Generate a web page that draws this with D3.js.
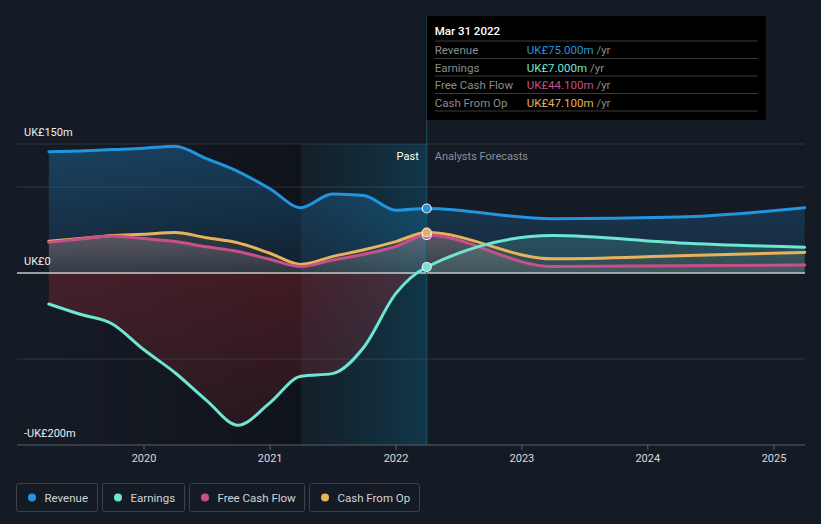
<!DOCTYPE html>
<html>
<head>
<meta charset="utf-8">
<script src="https://cdn.jsdelivr.net/npm/d3@7"></script>
<style>
  html, body { margin: 0; padding: 0; background: #151b25; }
  svg { display: block; font-family: Roboto, "Open Sans", sans-serif; }
</style>
</head>
<body>
<div id="chart"></div>
<script>
// quarterly trailing figures, then analyst forecasts (UK£m)
const dates = [
  "2019-03-31", "2019-06-30", "2019-09-30", "2019-12-31",
  "2020-03-31", "2020-06-30", "2020-09-30", "2020-12-31",
  "2021-03-31", "2021-06-30", "2021-09-30", "2021-12-31",
  "2022-03-31", "2023-03-31", "2024-03-31", "2025-03-31"
];
const revenue = [141, 142, 143.5, 145, 147.5, 133, 118, 98, 76, 92, 90, 73, 75, 63, 65, 76];
const earnings = [-36, -48, -59, -89, -116, -148, -177, -151, -120, -117, -86, -24, 7, 43.5, 35, 30];
const freeCashFlow = [35.7, 39.5, 43, 40, 36.5, 30.5, 25, 16, 7.5, 15, 21.7, 31, 44.1, 7.5, 8.5, 9.3];
const cashFromOp = [37, 40, 43.5, 45, 47, 41, 35, 23, 10, 19, 27, 36.5, 47.1, 16.5, 20, 24];

const yTicks = [150, 0, -200];
const yTickLabels = ["UK£150m", "UK£0", "-UK£200m"];
const gridValues = [150, 100, -100];
const xTickYears = [2020, 2021, 2022, 2023, 2024, 2025];

const tooltipDate = "Mar 31 2022";
const tooltipRows = [
  { name: "Revenue", value: "UK£75.000m", color: "#2394df" },
  { name: "Earnings", value: "UK£7.000m", color: "#6ee6d4" },
  { name: "Free Cash Flow", value: "UK£44.100m", color: "#c8508a" },
  { name: "Cash From Op", value: "UK£47.100m", color: "#e8b15c" }
];

const width = 821, height = 524;
const parse = d3.timeParse("%Y-%m-%d");
const t = dates.map(parse);
const nowDate = parse("2022-03-31");
const bandStart = parse("2021-03-31");

const x = d3.scaleTime()
  .domain([new Date(2020, 0, 1), new Date(2025, 0, 1)])
  .range([144, 774]);
const y = d3.scaleLinear().domain([-200, 150]).range([445, 144]);

const svg = d3.select("#chart").append("svg")
  .attr("width", width).attr("height", height);

const defs = svg.append("defs");

function vGrad(id, stops) {
  const g = defs.append("linearGradient").attr("id", id)
    .attr("x1", 0).attr("y1", 0).attr("x2", 0).attr("y2", 1);
  stops.forEach(s => g.append("stop").attr("offset", s[0])
    .attr("stop-color", s[1]).attr("stop-opacity", s[2]));
}
function hGrad(id, stops) {
  const g = defs.append("linearGradient").attr("id", id)
    .attr("x1", 0).attr("y1", 0).attr("x2", 1).attr("y2", 0);
  stops.forEach(s => g.append("stop").attr("offset", s[0])
    .attr("stop-color", s[1]).attr("stop-opacity", s[2]));
}

hGrad("pastShade", [[0, "#000", 0.0], [1, "#000", 0.3]]);
hGrad("bandShade", [[0, "#0a4a60", 0.08], [1, "#0a5a75", 0.45]]);
vGrad("revFill", [[0, "#2394df", 0.32], [1, "#2394df", 0.1]]);
vGrad("earnNeg", [[0, "#b02a35", 0.35], [1, "#b02a35", 0.15]]);
vGrad("earnPos", [[0, "#6ee6d4", 0.18], [1, "#6ee6d4", 0.08]]);
vGrad("cfoFill", [[0, "#e8b15c", 0.12], [1, "#e8b15c", 0.04]]);
vGrad("fcfFill", [[0, "#e0a0b0", 0.26], [1, "#a8a0a4", 0.14]]);

const plotTop = 144, plotBottom = 445;

// past region shading
svg.append("rect")
  .attr("x", x(t[0])).attr("y", plotTop)
  .attr("width", x(bandStart) - x(t[0])).attr("height", plotBottom - plotTop)
  .attr("fill", "url(#pastShade)");
svg.append("rect")
  .attr("x", x(bandStart)).attr("y", plotTop)
  .attr("width", x(nowDate) - x(bandStart)).attr("height", plotBottom - plotTop)
  .attr("fill", "url(#bandShade)");

// gridlines
svg.selectAll(".grid").data(gridValues).enter().append("line")
  .attr("x1", 17).attr("x2", 805)
  .attr("y1", d => y(d)).attr("y2", d => y(d))
  .attr("stroke", "#ffffff").attr("stroke-opacity", 0.12);

const curve = d3.curveMonotoneX;
const idx = d3.range(dates.length);

function areaOf(vals) {
  return d3.area().curve(curve)
    .x(i => x(t[i])).y0(y(0)).y1(i => y(vals[i]));
}
function lineOf(vals) {
  return d3.line().curve(curve).x(i => x(t[i])).y(i => y(vals[i]));
}

// areas
svg.append("path").datum(idx).attr("d", areaOf(revenue)).attr("fill", "url(#revFill)");

defs.append("clipPath").attr("id", "clipNeg").append("rect")
  .attr("x", 0).attr("y", y(0)).attr("width", width).attr("height", plotBottom - y(0));
defs.append("clipPath").attr("id", "clipPos").append("rect")
  .attr("x", 0).attr("y", 0).attr("width", width).attr("height", y(0));

svg.append("path").datum(idx).attr("d", areaOf(earnings))
  .attr("fill", "url(#earnNeg)").attr("clip-path", "url(#clipNeg)");
svg.append("path").datum(idx).attr("d", areaOf(earnings))
  .attr("fill", "url(#earnPos)").attr("clip-path", "url(#clipPos)");
svg.append("path").datum(idx).attr("d", areaOf(cashFromOp)).attr("fill", "url(#cfoFill)");
svg.append("path").datum(idx).attr("d", areaOf(freeCashFlow)).attr("fill", "url(#fcfFill)");

// zero line
svg.append("line")
  .attr("x1", 17).attr("x2", 805).attr("y1", y(0)).attr("y2", y(0))
  .attr("stroke", "#c8c8c8").attr("stroke-width", 1.5);

// lines
const series = [
  { vals: cashFromOp, color: "#e8b15c" },
  { vals: freeCashFlow, color: "#c8508a" },
  { vals: revenue, color: "#2394df" },
  { vals: earnings, color: "#6ee6d4" }
];
series.forEach(s => {
  svg.append("path").datum(idx).attr("d", lineOf(s.vals))
    .attr("fill", "none").attr("stroke", s.color).attr("stroke-width", 3)
    .attr("stroke-linecap", "round");
});

// now line
svg.append("line")
  .attr("x1", x(nowDate)).attr("x2", x(nowDate))
  .attr("y1", 16).attr("y2", plotBottom)
  .attr("stroke", "#1b5566").attr("stroke-width", 1);

// x axis
const xAxis = svg.append("g").attr("transform", `translate(0,${plotBottom})`);
xAxis.append("line").attr("x1", 17).attr("x2", 805)
  .attr("stroke", "#5a5f68").attr("stroke-width", 1);
xAxis.selectAll(".tick").data(xTickYears).enter().append("line")
  .attr("x1", d => x(new Date(d, 0, 1))).attr("x2", d => x(new Date(d, 0, 1)))
  .attr("y1", 0).attr("y2", 5).attr("stroke", "#5a5f68");
xAxis.selectAll(".lbl").data(xTickYears).enter().append("text")
  .attr("x", d => x(new Date(d, 0, 1))).attr("y", 17)
  .attr("text-anchor", "middle").attr("fill", "#d8dadf")
  .attr("font-size", 11).text(d => d);

// y labels
svg.selectAll(".ylbl").data(yTicks).enter().append("text")
  .attr("x", 24).attr("y", d => y(d) - 8)
  .attr("fill", "#eeeeee").attr("font-size", 11)
  .text((d, i) => yTickLabels[i]);

// past / forecast labels
svg.append("text").attr("x", x(nowDate) - 8).attr("y", 160)
  .attr("text-anchor", "end").attr("fill", "#ffffff").attr("font-size", 11)
  .text("Past");
svg.append("text").attr("x", x(nowDate) + 8).attr("y", 160)
  .attr("fill", "#8a8f98").attr("font-size", 11)
  .text("Analysts Forecasts");

// hover dots
const nowIdx = dates.indexOf("2022-03-31");
[
  { vals: revenue, color: "#2394df" },
  { vals: freeCashFlow, color: "#c8508a" },
  { vals: cashFromOp, color: "#e8b15c" },
  { vals: earnings, color: "#6ee6d4" }
].forEach(s => {
  svg.append("circle").attr("cx", x(nowDate)).attr("cy", y(s.vals[nowIdx]))
    .attr("r", 4.5).attr("fill", s.color)
    .attr("stroke", "#e8eef5").attr("stroke-width", 1.2);
});

// tooltip
const tip = svg.append("g").attr("transform", `translate(${x(nowDate)},16)`);
tip.append("rect").attr("width", 339).attr("height", 104).attr("fill", "#000000");
tip.append("text").attr("x", 8).attr("y", 19).attr("fill", "#ffffff")
  .attr("font-size", 11.5).attr("font-weight", 500).text(tooltipDate);
tooltipRows.forEach((r, i) => {
  const yy = 25 + i * 17.5;
  tip.append("line").attr("x1", 8).attr("x2", 331).attr("y1", yy).attr("y2", yy)
    .attr("stroke", "#3a3a3a");
  tip.append("text").attr("x", 8).attr("y", yy + 13).attr("font-size", 11.5)
    .attr("fill", "#8c8c8c").text(r.name);
  const tx = tip.append("text").attr("x", 100).attr("y", yy + 13).attr("font-size", 11.5);
  tx.append("tspan").attr("fill", r.color).text(r.value);
  tx.append("tspan").attr("fill", "#8c8c8c").text(" /yr");
});
tip.append("line").attr("x1", 8).attr("x2", 331).attr("y1", 95).attr("y2", 95)
  .attr("stroke", "#3a3a3a");

// legend
const legendItems = [
  { name: "Revenue", color: "#2394df", w: 81 },
  { name: "Earnings", color: "#6ee6d4", w: 82 },
  { name: "Free Cash Flow", color: "#c8508a", w: 115 },
  { name: "Cash From Op", color: "#e8b15c", w: 110 }
];
let lx = 16.5;
legendItems.forEach(it => {
  const g = svg.append("g").attr("transform", `translate(${lx},483.5)`);
  g.append("rect").attr("width", it.w).attr("height", 28).attr("rx", 2)
    .attr("fill", "none").attr("stroke", "#3c414b");
  g.append("circle").attr("cx", 15.5).attr("cy", 14).attr("r", 4).attr("fill", it.color);
  g.append("text").attr("x", 28).attr("y", 18).attr("font-size", 11.5)
    .attr("fill", "#d0d3d8").text(it.name);
  lx += it.w + 5;
});
</script>
</body>
</html>
